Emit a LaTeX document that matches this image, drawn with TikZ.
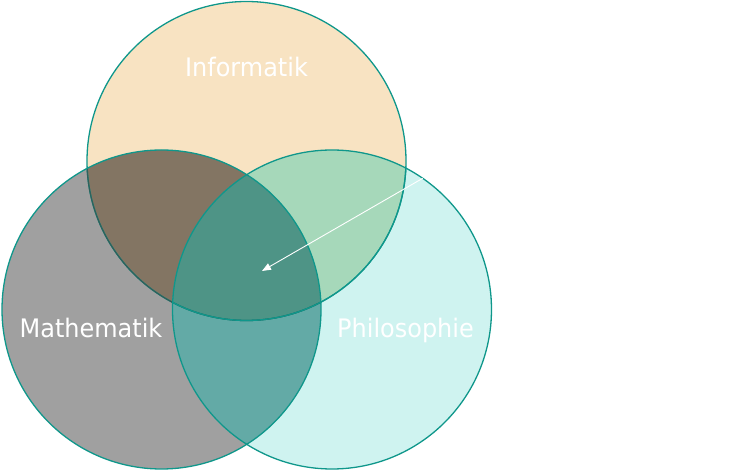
\documentclass[tikz,border=0pt]{standalone}
\usepackage{fontspec}
\setmainfont[FakeStretch=0.94]{DejaVu Sans}
\usetikzlibrary{arrows.meta}
\definecolor{infoC}{HTML}{F8E3C2}
\definecolor{mathC}{HTML}{A0A0A0}
\definecolor{philC}{HTML}{CFF3F0}
\definecolor{imC}{HTML}{837563}
\definecolor{ipC}{HTML}{A6D8BA}
\definecolor{mpC}{HTML}{63AAA6}
\definecolor{allC}{HTML}{4E9486}
\definecolor{ringC}{HTML}{0F978B}
\definecolor{ringDark}{HTML}{2E615C}
\tikzset{
  ring/.style={circle, draw=ringC, line width=1.3pt, minimum size=319pt, inner sep=0pt},
  lbl/.style={text=white, font=\fontsize{25.5}{30}\selectfont, anchor=base, inner sep=0pt},
  pointer/.style={draw=white, line width=0.9pt, -{Triangle[length=9pt,width=7pt]}}
}
\begin{document}
\begin{tikzpicture}[x=1pt,y=-1pt]
\useasboundingbox (0,0) rectangle (740,470);
\def\R{159.5}
\coordinate (ci) at (246.5,161);
\coordinate (cm) at (161.5,309.5);
\coordinate (cp) at (332,309.5);
% region fills
\fill[infoC] (ci) circle (\R);
\fill[mathC] (cm) circle (\R);
\fill[philC] (cp) circle (\R);
\begin{scope}\clip (ci) circle (\R); \fill[imC] (cm) circle (\R); \end{scope}
\begin{scope}\clip (ci) circle (\R); \fill[ipC] (cp) circle (\R); \end{scope}
\begin{scope}\clip (cm) circle (\R); \fill[mpC] (cp) circle (\R); \end{scope}
\begin{scope}\clip (ci) circle (\R); \clip (cm) circle (\R); \fill[allC] (cp) circle (\R); \end{scope}
% rings
\node[ring] (info) at (ci) {};
\begin{scope}\clip (cm) circle (\R); \draw[ringDark, line width=1.3pt] (ci) circle (\R); \end{scope}
\begin{scope}\clip (cp) circle (\R); \draw[ringC, line width=1.3pt] (ci) circle (\R); \end{scope}
\node[ring] (math) at (cm) {};
\node[ring] (phil) at (cp) {};
% labels
\node[lbl] (tinfo) at (246.5,76.7) {Informatik};
\node[lbl] (tmath) at (91,338) {Mathematik};
\node[lbl] (tphil) at (405.5,338) {Philosophie};
% pointer
\coordinate (pstart) at (422.7,178.3);
\coordinate (pend) at (262,271);
\draw[pointer] (pstart) -- (pend);
\end{tikzpicture}
\end{document}
